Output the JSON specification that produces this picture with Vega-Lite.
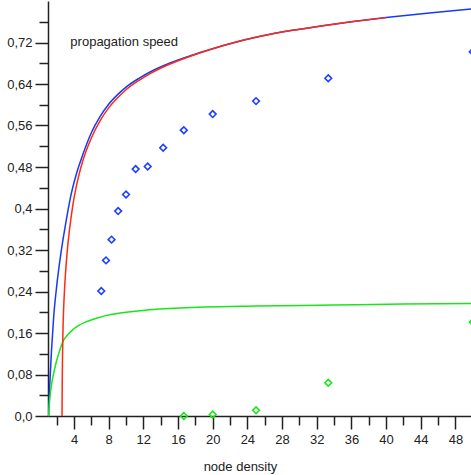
{
  "$schema": "https://vega.github.io/schema/vega-lite/v6.json",
  "width": 423,
  "height": 415,
  "autosize": {"type": "none"},
  "padding": {"left": 48, "top": 1, "right": 0, "bottom": 59},
  "background": "white",
  "config": {"view": {"stroke": null}, "font": "Liberation Sans"},
  "datasets": {
    "curves": [
      {"series": "blue", "x": 1.05, "y": 0.0},
      {"series": "blue", "x": 1.2, "y": 0.06},
      {"series": "blue", "x": 1.4, "y": 0.125},
      {"series": "blue", "x": 1.65, "y": 0.19},
      {"series": "blue", "x": 2.0, "y": 0.25},
      {"series": "blue", "x": 2.5, "y": 0.315},
      {"series": "blue", "x": 3.0, "y": 0.367},
      {"series": "blue", "x": 3.6, "y": 0.422},
      {"series": "blue", "x": 4.3, "y": 0.468},
      {"series": "blue", "x": 5.0, "y": 0.503},
      {"series": "blue", "x": 6.0, "y": 0.546},
      {"series": "blue", "x": 7.0, "y": 0.577},
      {"series": "blue", "x": 8.0, "y": 0.601},
      {"series": "blue", "x": 9.0, "y": 0.619},
      {"series": "blue", "x": 10, "y": 0.634},
      {"series": "blue", "x": 11.5, "y": 0.651},
      {"series": "blue", "x": 13, "y": 0.665},
      {"series": "blue", "x": 15, "y": 0.68},
      {"series": "blue", "x": 17.5, "y": 0.695},
      {"series": "blue", "x": 20, "y": 0.708},
      {"series": "blue", "x": 22.5, "y": 0.72},
      {"series": "blue", "x": 25.5, "y": 0.732},
      {"series": "blue", "x": 29, "y": 0.743},
      {"series": "blue", "x": 32.5, "y": 0.752},
      {"series": "blue", "x": 36, "y": 0.76},
      {"series": "blue", "x": 40, "y": 0.768},
      {"series": "blue", "x": 45, "y": 0.777},
      {"series": "blue", "x": 50, "y": 0.785},
      {"series": "red", "x": 2.62, "y": 0.0},
      {"series": "red", "x": 2.64, "y": 0.06},
      {"series": "red", "x": 2.67, "y": 0.11},
      {"series": "red", "x": 2.72, "y": 0.16},
      {"series": "red", "x": 2.8, "y": 0.205},
      {"series": "red", "x": 2.9, "y": 0.242},
      {"series": "red", "x": 3.0, "y": 0.27},
      {"series": "red", "x": 3.2, "y": 0.314},
      {"series": "red", "x": 3.5, "y": 0.362},
      {"series": "red", "x": 3.9, "y": 0.41},
      {"series": "red", "x": 4.5, "y": 0.46},
      {"series": "red", "x": 5.0, "y": 0.491},
      {"series": "red", "x": 6.0, "y": 0.536},
      {"series": "red", "x": 7.0, "y": 0.569},
      {"series": "red", "x": 8.0, "y": 0.594},
      {"series": "red", "x": 9.0, "y": 0.613},
      {"series": "red", "x": 10, "y": 0.629},
      {"series": "red", "x": 11.5, "y": 0.647},
      {"series": "red", "x": 13, "y": 0.662},
      {"series": "red", "x": 15, "y": 0.678},
      {"series": "red", "x": 17.5, "y": 0.694},
      {"series": "red", "x": 20, "y": 0.708},
      {"series": "red", "x": 22.5, "y": 0.72},
      {"series": "red", "x": 25.5, "y": 0.732},
      {"series": "red", "x": 29, "y": 0.743},
      {"series": "red", "x": 32.5, "y": 0.752},
      {"series": "red", "x": 36, "y": 0.76},
      {"series": "red", "x": 40, "y": 0.768},
      {"series": "green", "x": 1.05, "y": 0.0},
      {"series": "green", "x": 1.15, "y": 0.022},
      {"series": "green", "x": 1.27, "y": 0.043},
      {"series": "green", "x": 1.45, "y": 0.065},
      {"series": "green", "x": 1.65, "y": 0.082},
      {"series": "green", "x": 2.0, "y": 0.107},
      {"series": "green", "x": 2.23, "y": 0.12},
      {"series": "green", "x": 2.5, "y": 0.134},
      {"series": "green", "x": 2.8, "y": 0.146},
      {"series": "green", "x": 3.3, "y": 0.157},
      {"series": "green", "x": 3.77, "y": 0.165},
      {"series": "green", "x": 4.5, "y": 0.174},
      {"series": "green", "x": 5.3, "y": 0.181},
      {"series": "green", "x": 6.5, "y": 0.188},
      {"series": "green", "x": 8.4, "y": 0.196},
      {"series": "green", "x": 10, "y": 0.2},
      {"series": "green", "x": 12.2, "y": 0.204},
      {"series": "green", "x": 15, "y": 0.207},
      {"series": "green", "x": 19, "y": 0.21},
      {"series": "green", "x": 25, "y": 0.212},
      {"series": "green", "x": 34, "y": 0.214},
      {"series": "green", "x": 42, "y": 0.216},
      {"series": "green", "x": 50, "y": 0.217}
    ],
    "points": [
      {"series": "blue", "x": 7.143, "y": 0.241},
      {"series": "blue", "x": 7.692, "y": 0.3},
      {"series": "blue", "x": 8.333, "y": 0.34},
      {"series": "blue", "x": 9.091, "y": 0.395},
      {"series": "blue", "x": 10.0, "y": 0.427},
      {"series": "blue", "x": 11.111, "y": 0.476},
      {"series": "blue", "x": 12.5, "y": 0.481},
      {"series": "blue", "x": 14.286, "y": 0.517},
      {"series": "blue", "x": 16.667, "y": 0.551},
      {"series": "blue", "x": 20, "y": 0.582},
      {"series": "blue", "x": 25, "y": 0.607},
      {"series": "blue", "x": 33.333, "y": 0.651},
      {"series": "blue", "x": 50, "y": 0.702},
      {"series": "green", "x": 16.667, "y": 0.0},
      {"series": "green", "x": 20, "y": 0.003},
      {"series": "green", "x": 25, "y": 0.011},
      {"series": "green", "x": 33.333, "y": 0.064},
      {"series": "green", "x": 50, "y": 0.181}
    ],
    "labels": [
      {"x": 3.58, "y": 0.714, "label": "propagation speed"}
    ]
  },
  "encoding": {
    "x": {
      "field": "x",
      "type": "quantitative",
      "scale": {"domain": [1, 49.8], "nice": false, "zero": false},
      "axis": {
        "values": [2, 4, 6, 8, 10, 12, 14, 16, 18, 20, 22, 24, 26, 28, 30, 32, 34, 36, 38, 40, 42, 44, 46, 48],
        "grid": false,
        "title": "node density",
        "labelExpr": "datum.value % 4 === 0 ? datum.label : ''",
        "tickSize": {"condition": {"test": "datum.value % 4 === 0", "value": 13}, "value": 9},
        "domainColor": "#222",
        "tickColor": "#222",
        "domainWidth": 1.5,
        "tickWidth": 1.5,
        "labelFontSize": 13,
        "labelFont": "Liberation Sans",
        "labelColor": "#222",
        "labelPadding": 4,
        "labelFlush": false,
        "labelOverlap": false,
        "titleFont": "Liberation Sans",
        "titleFontSize": 13,
        "titleFontWeight": "normal",
        "titleColor": "#222",
        "titleX": 192,
        "titleY": 54,
        "titleBaseline": "alphabetic",
        "titleAlign": "center"
      }
    },
    "y": {
      "field": "y",
      "type": "quantitative",
      "scale": {"domain": [0, 0.8], "nice": false},
      "axis": {
        "values": [0, 0.04, 0.08, 0.12, 0.16, 0.2, 0.24, 0.28, 0.32, 0.36, 0.4, 0.44, 0.48, 0.52, 0.56, 0.6, 0.64, 0.68, 0.72, 0.76],
        "grid": false,
        "title": null,
        "labelExpr": "round(datum.value*100) % 8 === 0 ? (datum.value === 0 ? '0,0' : replace(format(datum.value, '.2~f'), '.', ',')) : ''",
        "tickSize": {"condition": {"test": "round(datum.value*100) % 8 === 0", "value": 13}, "value": 9},
        "domainColor": "#222",
        "tickColor": "#222",
        "domainWidth": 1.5,
        "tickWidth": 1.5,
        "labelFontSize": 13,
        "labelFont": "Liberation Sans",
        "labelColor": "#222",
        "labelPadding": 3,
        "labelFlush": false,
        "labelOverlap": false
      }
    }
  },
  "layer": [
    {
      "data": {"name": "curves"},
      "transform": [{"filter": "datum.series === 'blue'"}],
      "mark": {"type": "line", "color": "#1538ff", "strokeWidth": 1.5, "interpolate": "monotone", "clip": true}
    },
    {
      "data": {"name": "curves"},
      "transform": [{"filter": "datum.series === 'green'"}],
      "mark": {"type": "line", "color": "#19e619", "strokeWidth": 1.5, "interpolate": "monotone", "clip": true}
    },
    {
      "data": {"name": "curves"},
      "transform": [{"filter": "datum.series === 'red'"}],
      "mark": {"type": "line", "color": "#ff2a10", "strokeWidth": 1.5, "interpolate": "monotone", "clip": true}
    },
    {
      "data": {"name": "points"},
      "mark": {"type": "point", "shape": "diamond", "filled": false, "strokeWidth": 1.6, "size": 45, "opacity": 1},
      "encoding": {
        "color": {
          "field": "series",
          "type": "nominal",
          "scale": {"domain": ["blue", "green"], "range": ["#1f3fff", "#19e619"]},
          "legend": null
        }
      }
    },
    {
      "data": {"name": "labels"},
      "mark": {"type": "text", "align": "left", "baseline": "alphabetic", "fontSize": 13, "font": "Liberation Sans", "color": "#222"},
      "encoding": {"text": {"field": "label"}}
    }
  ]
}
